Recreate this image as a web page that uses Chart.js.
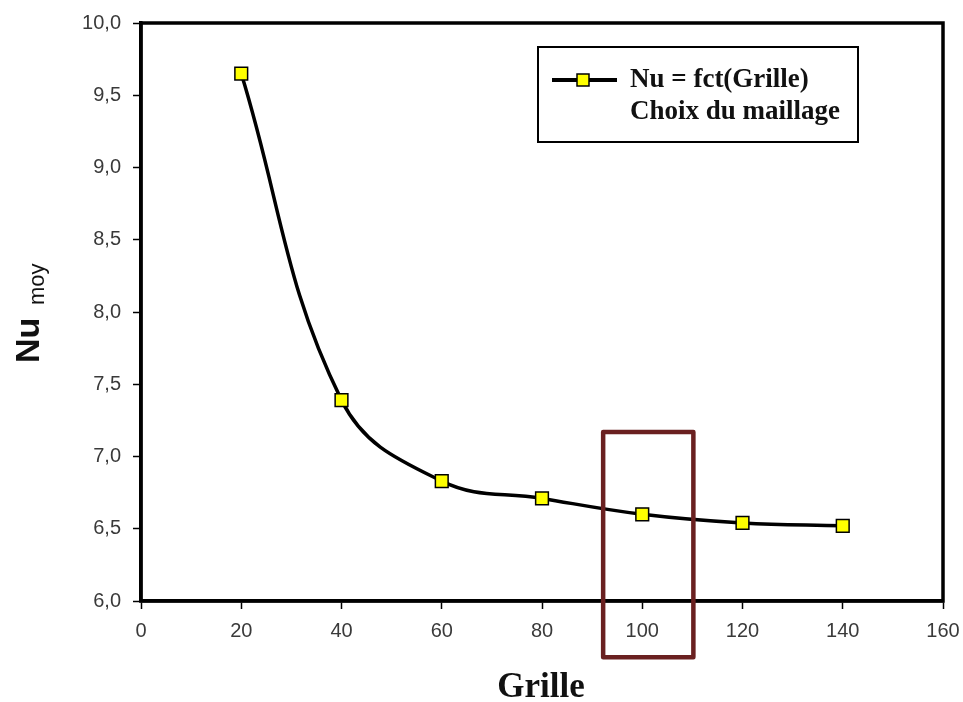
<!DOCTYPE html>
<html>
<head>
<meta charset="utf-8">
<script src="https://cdn.jsdelivr.net/npm/chart.js@4/dist/chart.umd.min.js"></script>
<style>
  body { margin: 0; background: #fff; }
  #wrap { width: 963px; height: 702px; }
</style>
</head>
<body>
<div id="wrap"><canvas id="chart" width="963" height="702"></canvas></div>
<script>
// grid sizes and mean Nusselt number
const grille = [20, 40, 60, 80, 100, 120, 140];
const nuMoy = [9.65, 7.39, 6.83, 6.71, 6.60, 6.54, 6.52];

const legendLines = ['Nu = fct(Grille)', 'Choix du maillage'];

// highlighted mesh choice, in data units (x from/to, y from/to)
const choixX = [92.2, 110.2];
const choixY = [7.17, 5.61];

const fmt = v => v.toFixed(1).replace('.', ',');

// frame, legend, axis titles and the red box
const extras = {
  id: 'extras',
  afterDraw(chart) {
    const { ctx, chartArea: a, scales } = chart;
    ctx.save();

    // closing frame
    ctx.strokeStyle = '#000';
    ctx.lineWidth = 3.5;
    ctx.strokeRect(a.left, a.top, a.right - a.left, a.bottom - a.top);

    // legend box
    ctx.lineWidth = 2;
    ctx.strokeRect(538, 47, 320, 95);
    ctx.lineWidth = 4;
    ctx.beginPath();
    ctx.moveTo(552, 80);
    ctx.lineTo(617, 80);
    ctx.stroke();
    ctx.fillStyle = '#ffff00';
    ctx.lineWidth = 1.5;
    ctx.fillRect(577, 74, 12, 12);
    ctx.strokeRect(577, 74, 12, 12);
    ctx.fillStyle = '#111';
    ctx.font = 'bold 27px "Liberation Serif", "Times New Roman", serif';
    ctx.textAlign = 'left';
    ctx.textBaseline = 'middle';
    ctx.fillText(legendLines[0], 630, 80);
    ctx.fillText(legendLines[1], 630, 112);

    // x title
    ctx.textAlign = 'center';
    ctx.textBaseline = 'alphabetic';
    ctx.font = 'bold 35px "Liberation Serif", "Times New Roman", serif';
    ctx.fillText('Grille', 541, 697);

    // y title Nu with subscript moy
    ctx.save();
    ctx.translate(39, 363);
    ctx.rotate(-Math.PI / 2);
    ctx.textAlign = 'left';
    ctx.font = 'bold 34px "Liberation Sans", Arial, sans-serif';
    ctx.fillText('Nu', 0, 0);
    ctx.font = '22px "Liberation Sans", Arial, sans-serif';
    ctx.fillText('moy', 58, 5);
    ctx.restore();

    // red box around the chosen mesh
    const x0 = scales.x.getPixelForValue(choixX[0]);
    const x1 = scales.x.getPixelForValue(choixX[1]);
    const y0 = scales.y.getPixelForValue(choixY[0]);
    const y1 = scales.y.getPixelForValue(choixY[1]);
    ctx.strokeStyle = '#6a2020';
    ctx.lineWidth = 4.5;
    ctx.lineJoin = 'round';
    ctx.strokeRect(x0, y0, x1 - x0, y1 - y0);

    ctx.restore();
  }
};

new Chart(document.getElementById('chart'), {
  type: 'line',
  data: {
    datasets: [{
      label: legendLines[0],
      data: grille.map((g, i) => ({ x: g, y: nuMoy[i] })),
      borderColor: '#000',
      borderWidth: 3.5,
      tension: 0.4,
      pointStyle: 'rect',
      pointRadius: 9,
      pointBackgroundColor: '#ffff00',
      pointBorderColor: '#000',
      pointBorderWidth: 1.5,
      fill: false
    }]
  },
  options: {
    responsive: false,
    animation: false,
    layout: { padding: { top: 23, right: 20, left: 0, bottom: 0 } },
    plugins: { legend: { display: false }, tooltip: { enabled: false } },
    scales: {
      x: {
        type: 'linear',
        min: 0, max: 160,
        afterFit: s => { s.height = 101; s.paddingRight = 0; s.paddingLeft = 0; },
        grid: { drawOnChartArea: false, tickLength: 8, tickColor: '#000', tickWidth: 1.5 },
        border: { color: '#000', width: 3.5 },
        ticks: {
          stepSize: 20,
          padding: 10,
          color: '#3a3a3a',
          font: { family: '"Liberation Sans", Arial, sans-serif', size: 20 }
        }
      },
      y: {
        min: 6, max: 10,
        afterFit: s => { s.width = 141; s.paddingTop = 0; s.paddingBottom = 0; },
        grid: { drawOnChartArea: false, tickLength: 8, tickColor: '#000', tickWidth: 1.5 },
        border: { color: '#000', width: 3.5 },
        ticks: {
          stepSize: 0.5,
          padding: 12,
          color: '#3a3a3a',
          font: { family: '"Liberation Sans", Arial, sans-serif', size: 20 },
          callback: v => fmt(v)
        }
      }
    }
  },
  plugins: [extras]
});
</script>
</body>
</html>
